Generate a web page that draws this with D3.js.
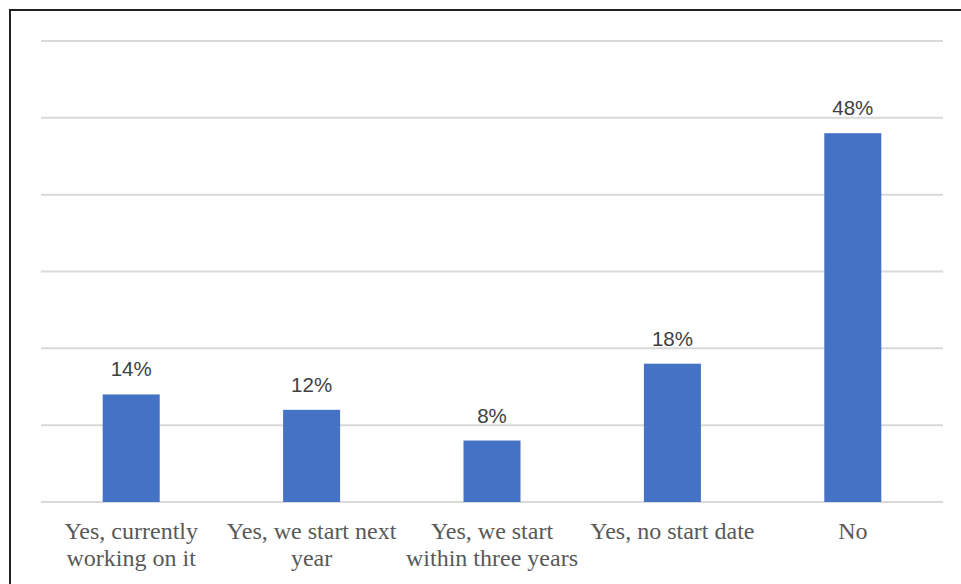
<!DOCTYPE html>
<html><head><meta charset="utf-8">
<script src="https://cdn.jsdelivr.net/npm/d3@7"></script>
<style>body{margin:0;background:#fff;} svg{display:block;}</style>
</head><body>
<svg id="c" width="961" height="584"></svg>
<script>
const categories = [["Yes, currently","working on it"],["Yes, we start next","year"],["Yes, we start","within three years"],["Yes, no start date"],["No"]];
const values = [14, 12, 8, 18, 48];
const yTicks = [0,10,20,30,40,50,60];

const svg = d3.select("#c");
svg.append("rect").attr("x",10).attr("y",10).attr("width",960).attr("height",600)
  .attr("fill","#fff").attr("stroke","#222").attr("stroke-width",2);

const m = {left:41, right:943, top:41, bottom:502};
const x = d3.scaleBand().domain(d3.range(values.length)).range([m.left,m.right]).paddingInner(0.684).paddingOuter(0.342);
const y = d3.scaleLinear().domain([0,60]).range([m.bottom,m.top]);

svg.append("g").selectAll("line").data(yTicks).join("line")
  .attr("x1",m.left).attr("x2",m.right)
  .attr("y1",d=>y(d)).attr("y2",d=>y(d))
  .attr("stroke","#d9d9d9").attr("stroke-width",2);

svg.append("g").selectAll("rect").data(values).join("rect")
  .attr("x",(d,i)=>x(i)).attr("width",x.bandwidth())
  .attr("y",d=>y(d)).attr("height",d=>y(0)-y(d))
  .attr("fill","#4472c4");

svg.append("g").selectAll("text").data(values).join("text")
  .attr("x",(d,i)=>x(i)+x.bandwidth()/2).attr("y",d=>y(d)-18)
  .attr("text-anchor","middle").attr("fill","#404040")
  .style("font-family","'Liberation Sans', Arial, sans-serif").style("font-size","20.5px")
  .text(d=>d+"%");

const lab = svg.append("g").selectAll("text").data(categories).join("text")
  .attr("text-anchor","middle").attr("fill","#595959")
  .style("font-family","'Liberation Serif', 'Times New Roman', serif").style("font-size","24px");
lab.each(function(d,i){
  const t = d3.select(this);
  d.forEach((line,j)=>{
    t.append("tspan").attr("x",x(i)+x.bandwidth()/2).attr("y",539+j*27).text(line);
  });
});
</script>
</body></html>
